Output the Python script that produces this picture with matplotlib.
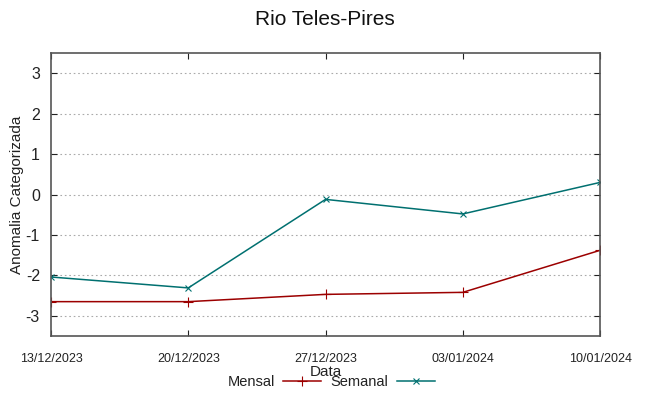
import matplotlib

matplotlib.use("Agg")
import matplotlib.pyplot as plt

# Datas do eixo x e anomalias categorizadas
DATAS = ["13/12/2023", "20/12/2023", "27/12/2023", "03/01/2024", "10/01/2024"]
MENSAL = [-2.65, -2.65, -2.47, -2.42, -1.38]
SEMANAL = [-2.04, -2.31, -0.12, -0.48, 0.30]
Y_TICKS = [-3, -2, -1, 0, 1, 2, 3]

C_MENSAL = "#9c0000"
C_SEMANAL = "#007070"
FRAME = "#555555"

plt.rcParams["font.family"] = ["Liberation Sans", "DejaVu Sans"]
plt.rcParams["axes.unicode_minus"] = False  # hífen simples, como no gnuplot

fig = plt.figure(figsize=(6.49, 3.96), dpi=100)
ax = fig.add_axes([0.0786, 0.1515, 0.846, 0.7145])

x = list(range(len(DATAS)))
ax.plot(x, MENSAL, color=C_MENSAL, linewidth=1.1, marker="+",
        markersize=7, markeredgewidth=0.8, label="Mensal")
ax.plot(x, SEMANAL, color=C_SEMANAL, linewidth=1.1, marker="x",
        markersize=5, markeredgewidth=0.8, label="Semanal")

ax.set_xlim(0, len(DATAS) - 1)
ax.set_ylim(-3.5, 3.5)
ax.set_xticks(x)
ax.set_xticklabels(DATAS, fontsize=9)
ax.set_yticks(Y_TICKS)
ax.tick_params(axis="y", labelsize=11.5)
ax.tick_params(direction="in", top=True, right=True, length=4,
               color="#222222", labelcolor="#222222")
ax.tick_params(axis="x", pad=12)
ax.tick_params(axis="y", pad=8)
ax.grid(axis="y", color="#aaaaaa", linestyle=(0, (1.5, 2.5)), linewidth=0.8)
ax.set_axisbelow(True)
for sp in ax.spines.values():
    sp.set_color(FRAME)
    sp.set_linewidth(1.2)

ax.set_ylabel("Anomalia Categorizada", fontsize=11, color="#222222",
              labelpad=1)
ax.set_xlabel("Data", fontsize=11, color="#222222", labelpad=0)
fig.suptitle("Rio Teles-Pires", fontsize=15, color="#111111", y=0.975)

fig.legend(loc="center", bbox_to_anchor=(0.51, 0.035), ncol=2, frameon=False,
           markerfirst=False, fontsize=10.5, handlelength=2.6,
           columnspacing=0.6, handletextpad=0.6, labelcolor="#222222")

fig.savefig("out.png", dpi=100)
